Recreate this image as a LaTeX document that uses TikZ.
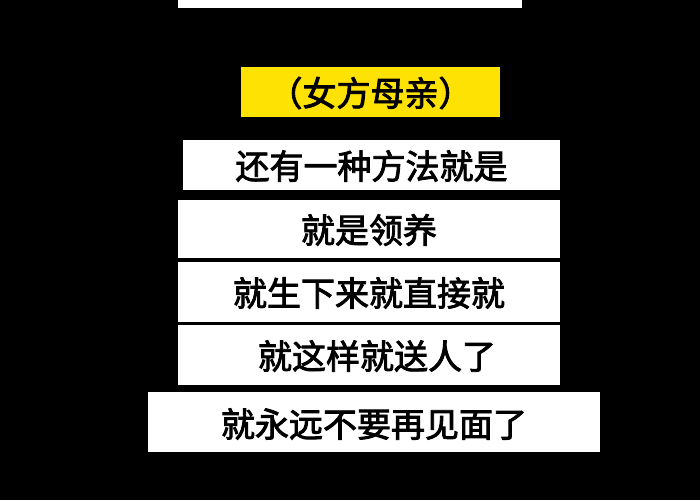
\documentclass[tikz,border=0pt]{standalone}
\usepackage{fontspec}
\newfontfamily\cjk[AutoFakeBold=2.5]{Noto Sans CJK SC}
\begin{document}
\begin{tikzpicture}[x=1pt,y=-1pt,
  capbox/.style={fill=white,draw=none},
  lbl/.style={font=\cjk\bfseries\fontsize{34}{36}\selectfont,text=black,inner sep=0pt,anchor=center}]
\useasboundingbox (0,0) rectangle (700,500);
\fill[black] (0,0) rectangle (700,500);
\fill[white] (178,0) rectangle (522,8);
\fill[yellow!85!orange] (241,67) rectangle (500,117);
\node[lbl] (t0) at (370.5,93) {（女方母亲）};
\fill[capbox] (183,140) rectangle (560,190);
\node[lbl] (t1) at (371.5,166) {还有一种方法就是};
\fill[capbox] (178,200) rectangle (560,258);
\node[lbl] (t2) at (369,230) {就是领养};
\fill[capbox] (178,262) rectangle (560,322);
\node[lbl] (t3) at (369,293) {就生下来就直接就};
\fill[capbox] (178,325) rectangle (560,385);
\node[lbl] (t4) at (377,356) {就这样就送人了};
\fill[capbox] (148,392) rectangle (600,452);
\node[lbl] (t5) at (374,424) {就永远不要再见面了};
\end{tikzpicture}
\end{document}
